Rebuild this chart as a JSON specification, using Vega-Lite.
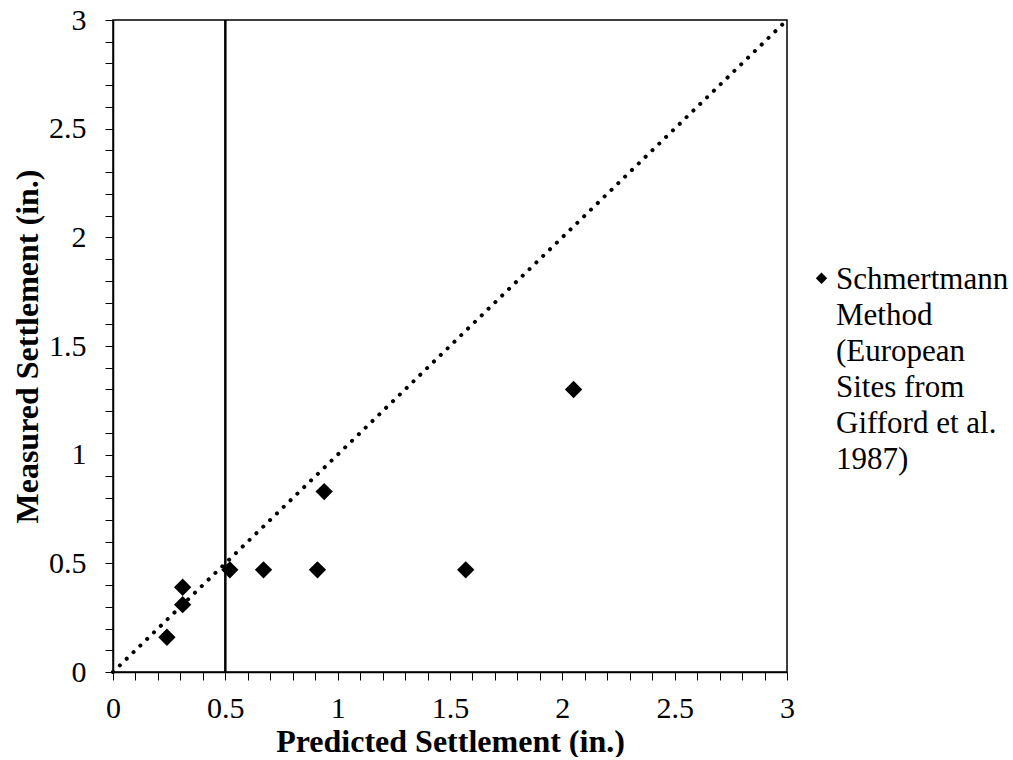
{
  "$schema": "https://vega.github.io/schema/vega-lite/v6.json",
  "width": 674,
  "height": 652,
  "padding": {"left": 11, "top": 5, "right": 5, "bottom": 0},
  "background": "white",
  "config": {
    "font": "Liberation Serif",
    "view": {"stroke": "black", "strokeWidth": 1.5},
    "legend": {"labelFont": "Liberation Serif", "labelFontSize": 31, "labelColor": "black"},
    "axis": {
      "grid": false,
      "domainColor": "black",
      "domainWidth": 1.5,
      "tickColor": "black",
      "tickWidth": 1,
      "tickSize": 8,
      "labelFont": "Liberation Serif",
      "labelFontSize": 30,
      "labelColor": "black",
      "labelOverlap": false,
      "titleFont": "Liberation Serif",
      "titleFontSize": 32,
      "titleFontWeight": "bold",
      "titleColor": "black"
    }
  },
  "encoding": {
    "x": {
      "field": "predicted", "type": "quantitative",
      "scale": {"domain": [0, 3], "nice": false, "zero": true},
      "axis": {
        "title": "Predicted Settlement (in.)",
        "values": [0,0.1,0.2,0.3,0.4,0.5,0.6,0.7,0.8,0.9,1,1.1,1.2,1.3,1.4,1.5,1.6,1.7,1.8,1.9,2,2.1,2.2,2.3,2.4,2.5,2.6,2.7,2.8,2.9,3],
        "labelExpr": "abs(datum.value*2 - round(datum.value*2)) < 0.001 ? format(datum.value, '~g') : ''",
        "labelOverlap": false,
        "labelPadding": 13,
        "titlePadding": 3,
        "labelFlush": false
      }
    }
  },
  "layer": [
    {
      "data": {"values": [
        {"predicted": 0, "measured": 0},
        {"predicted": 3, "measured": 3}
      ]},
      "mark": {"type": "line", "color": "black", "strokeWidth": 4, "strokeDash": [0.1, 9.4], "strokeCap": "round"},
      "encoding": {
        "y": {
          "field": "measured", "type": "quantitative",
          "scale": {"domain": [0, 3], "nice": false, "zero": true},
          "axis": {
            "title": "Measured Settlement (in.)",
            "values": [0,0.1,0.2,0.3,0.4,0.5,0.6,0.7,0.8,0.9,1,1.1,1.2,1.3,1.4,1.5,1.6,1.7,1.8,1.9,2,2.1,2.2,2.3,2.4,2.5,2.6,2.7,2.8,2.9,3],
            "labelExpr": "abs(datum.value*2 - round(datum.value*2)) < 0.001 ? format(datum.value, '~g') : ''",
            "labelOverlap": false,
            "labelPadding": 19,
            "titlePadding": 4,
            "labelFlush": false
          }
        }
      }
    },
    {
      "data": {"values": [{"predicted": 0.5}]},
      "mark": {"type": "rule", "color": "black", "strokeWidth": 2.5},
      "encoding": {}
    },
    {
      "data": {"values": [
        {"predicted": 0.24, "measured": 0.16, "series": "Schmertmann|Method|(European|Sites from|Gifford et al.|1987)"},
        {"predicted": 0.31, "measured": 0.31, "series": "Schmertmann|Method|(European|Sites from|Gifford et al.|1987)"},
        {"predicted": 0.31, "measured": 0.39, "series": "Schmertmann|Method|(European|Sites from|Gifford et al.|1987)"},
        {"predicted": 0.52, "measured": 0.47, "series": "Schmertmann|Method|(European|Sites from|Gifford et al.|1987)"},
        {"predicted": 0.67, "measured": 0.47, "series": "Schmertmann|Method|(European|Sites from|Gifford et al.|1987)"},
        {"predicted": 0.91, "measured": 0.47, "series": "Schmertmann|Method|(European|Sites from|Gifford et al.|1987)"},
        {"predicted": 0.94, "measured": 0.83, "series": "Schmertmann|Method|(European|Sites from|Gifford et al.|1987)"},
        {"predicted": 1.57, "measured": 0.47, "series": "Schmertmann|Method|(European|Sites from|Gifford et al.|1987)"},
        {"predicted": 2.05, "measured": 1.30, "series": "Schmertmann|Method|(European|Sites from|Gifford et al.|1987)"}
      ]},
      "mark": {"type": "point", "shape": "diamond", "filled": true, "opacity": 1, "size": 300},
      "encoding": {
        "y": {
          "field": "measured", "type": "quantitative",
          "scale": {"domain": [0, 3], "nice": false, "zero": true},
          "axis": {
            "title": "Measured Settlement (in.)",
            "values": [0,0.1,0.2,0.3,0.4,0.5,0.6,0.7,0.8,0.9,1,1.1,1.2,1.3,1.4,1.5,1.6,1.7,1.8,1.9,2,2.1,2.2,2.3,2.4,2.5,2.6,2.7,2.8,2.9,3],
            "labelExpr": "abs(datum.value*2 - round(datum.value*2)) < 0.001 ? format(datum.value, '~g') : ''",
            "labelOverlap": false,
            "labelPadding": 19,
            "titlePadding": 4,
            "labelFlush": false
          }
        },
        "color": {
          "field": "series", "type": "nominal",
          "scale": {"range": ["black"]},
          "legend": {
            "title": null,
            "orient": "none",
            "legendX": 693,
            "legendY": 253,
            "symbolType": "M0,-2.79L1,-1.79L0,-0.79L-1,-1.79Z",
            "symbolFillColor": "black",
            "symbolStrokeColor": "black",
            "symbolStrokeWidth": 0,
            "symbolOpacity": 1,
            "symbolSize": 130,
            "labelFont": "Liberation Serif",
            "labelFontSize": 31,
            "labelColor": "black",
            "labelLimit": 300,
            "labelExpr": "split(datum.label, '|')",
            "labelBaseline": "alphabetic",
            "labelOffset": -1,
            "encode": {
              "labels": {"update": {
                "lineHeight": {"value": 36},
                "font": {"value": "Liberation Serif"},
                "fontSize": {"value": 31}
              }}
            }
          }
        }
      }
    }
  ]
}
